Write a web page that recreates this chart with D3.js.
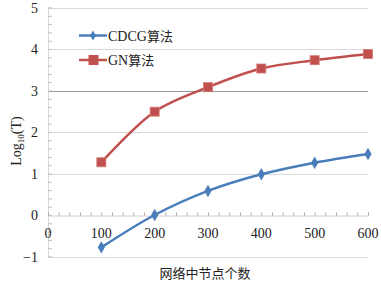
<!DOCTYPE html>
<html lang="zh">
<head>
    <meta charset="UTF-8">
    <title>算法对比</title>
    <script src="https://cdn.jsdelivr.net/npm/d3@7/dist/d3.min.js"></script>
    <style>
        body { margin: 0; background: #fff; }
    </style>
</head>
<body>
    <div class="chart"></div>
<script>
    const nodes = [100, 200, 300, 400, 500, 600]
    const cdcg = [-0.78, 0.0, 0.58, 0.98, 1.26, 1.47]
    const gn = [1.27, 2.49, 3.08, 3.53, 3.73, 3.88]
    const xTicks = [0, 100, 200, 300, 400, 500, 600]
    const yTicks = [-1, 0, 1, 2, 3, 4, 5]
    const seriesNames = ['CDCG算法', 'GN算法']
    const colors = ['#4a7ebb', '#c0504d']

    const width = 381
    const height = 286
    const serif = '"Liberation Serif", "Times New Roman", serif'
    const cjk = '"Noto Sans CJK SC", sans-serif'

    const xScale = d3.scaleLinear().domain([0, 600]).range([48, 368])
    const yScale = d3.scaleLinear().domain([-1, 5]).range([256.5, 7.5])

    const svg = d3.select('.chart').append('svg')
        .attr('width', width)
        .attr('height', height)

    // gridlines
    svg.append('g')
        .selectAll('line')
        .data(yTicks.filter(d => d !== 0))
        .enter()
        .append('line')
        .attr('x1', xScale(0))
        .attr('x2', xScale(600))
        .attr('y1', d => Math.round(yScale(d)) + 0.5)
        .attr('y2', d => Math.round(yScale(d)) + 0.5)
        .attr('stroke', d => d === 3 ? '#9a9a9a' : '#d9d9d9')
        .attr('stroke-width', 1)

    // left axis with minor ticks
    const gY = svg.append('g').attr('transform', `translate(${xScale(0)},0)`)
    gY.call(d3.axisRight(yScale).tickValues(d3.range(-1, 5.01, 0.2)).tickSize(4).tickFormat(''))
    gY.select('.domain').attr('stroke', '#d9d9d9')
    gY.selectAll('.tick line').attr('stroke', '#bfbfbf')

    svg.append('g')
        .selectAll('text')
        .data(yTicks)
        .enter()
        .append('text')
        .attr('x', 38)
        .attr('y', d => yScale(d) + 5)
        .attr('text-anchor', 'end')
        .attr('font-family', serif)
        .attr('font-size', '14px')
        .attr('fill', '#222')
        .text(d => d < 0 ? '\u2212' + Math.abs(d) : d)

    // x axis at y = 0
    const gX = svg.append('g').attr('transform', `translate(0,${Math.round(yScale(0)) + 0.5})`)
    gX.call(d3.axisTop(xScale).tickValues(d3.range(0, 601, 20)).tickSize(3).tickFormat(''))
    gX.select('.domain').attr('stroke', '#d0d0d0')
    gX.selectAll('.tick line').attr('stroke', '#a6a6a6')

    svg.append('g')
        .selectAll('text')
        .data(xTicks)
        .enter()
        .append('text')
        .attr('x', d => xScale(d))
        .attr('y', yScale(0) + 23)
        .attr('text-anchor', 'middle')
        .attr('font-family', serif)
        .attr('font-size', '14px')
        .attr('fill', '#222')
        .text(d => d)

    // lines
    const series = [cdcg, gn]
    const line = d3.line()
        .x((d, i) => xScale(nodes[i]))
        .y(d => yScale(d))
        .curve(d3.curveCatmullRom.alpha(0.5))

    series.forEach((vals, si) => {
        svg.append('path')
            .attr('d', line(vals))
            .attr('fill', 'none')
            .attr('stroke', colors[si])
            .attr('stroke-width', 2.5)
    })

    const diamond = d3.symbol().type(d3.symbolDiamond).size(45)
    svg.append('g')
        .selectAll('path')
        .data(cdcg)
        .enter()
        .append('path')
        .attr('d', diamond)
        .attr('transform', (d, i) => `translate(${xScale(nodes[i])},${yScale(d)})`)
        .attr('fill', colors[0])

    svg.append('g')
        .selectAll('rect')
        .data(gn)
        .enter()
        .append('rect')
        .attr('x', (d, i) => xScale(nodes[i]) - 4.5)
        .attr('y', d => yScale(d) - 4.5)
        .attr('width', 9)
        .attr('height', 9)
        .attr('fill', colors[1])
        .attr('stroke', '#d27976')
        .attr('stroke-width', 0.8)

    // legend
    const legend = svg.append('g')
    seriesNames.forEach((name, i) => {
        const ly = 35.5 + i * 24.5
        legend.append('line')
            .attr('x1', 79).attr('x2', 107)
            .attr('y1', ly).attr('y2', ly)
            .attr('stroke', colors[i])
            .attr('stroke-width', 2.5)
        if (i === 0) {
            legend.append('path')
                .attr('d', d3.symbol().type(d3.symbolDiamond).size(30))
                .attr('transform', `translate(93,${ly})`)
                .attr('fill', colors[0])
        } else {
            legend.append('rect')
                .attr('x', 88.5).attr('y', ly - 5)
                .attr('width', 10).attr('height', 10)
                .attr('fill', colors[1])
        }
        const t = legend.append('text')
            .attr('x', 108)
            .attr('y', ly + 5)
            .attr('font-size', '14px')
            .attr('fill', '#222')
        const m = name.match(/^([A-Z]+)(.*)$/)
        t.append('tspan').attr('font-family', serif).text(m[1])
        t.append('tspan').attr('font-family', cjk).attr('font-size', '13px').text(m[2])
    })

    // axis titles
    const yt = svg.append('text')
        .attr('transform', 'translate(21,141) rotate(-90)')
        .attr('text-anchor', 'middle')
        .attr('font-family', serif)
        .attr('font-size', '14px')
        .attr('fill', '#222')
    yt.append('tspan').text('Log')
    yt.append('tspan').attr('font-size', '9px').attr('dy', 3).text('10')
    yt.append('tspan').attr('dy', -3).text('(T)')

    svg.append('text')
        .attr('x', 205)
        .attr('y', 278)
        .attr('text-anchor', 'middle')
        .attr('font-family', cjk)
        .attr('font-size', '13px')
        .attr('fill', '#222')
        .text('网络中节点个数')
</script>
</body>
</html>
